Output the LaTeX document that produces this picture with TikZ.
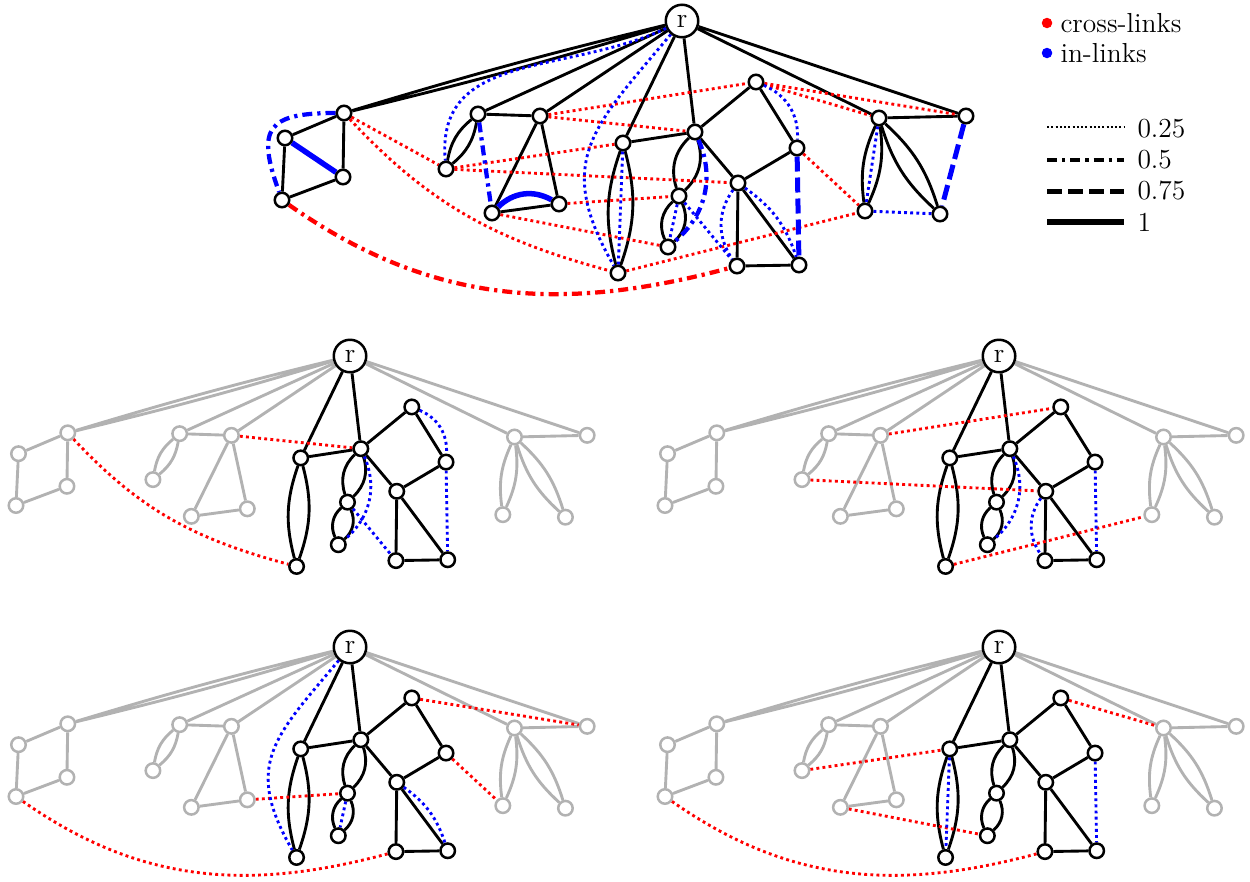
\documentclass[tikz,border=0pt]{standalone}
\pgfdeclarelayer{edges}
\pgfsetlayers{edges,main}
\definecolor{lgray}{RGB}{178,178,178}
\tikzset{
  vtx/.style={circle,draw=black,fill=white,line width=1pt,minimum size=5.8pt,inner sep=0pt},
  gvtx/.style={vtx,draw=lgray},
  rootn/.style={circle,draw=black,fill=white,line width=1pt,minimum size=13pt,inner sep=0pt,font=\fontsize{11}{13}\selectfont},
  bedge/.style={line width=1.15pt,draw=black},
  gedge/.style={line width=1.15pt,draw=lgray},
  wA/.style={line width=1.15pt,dash pattern=on 1.15pt off 1.3pt},
  wB/.style={line width=1.7pt,dash pattern=on 4pt off 2pt on 1.3pt off 2pt},
  wC/.style={line width=2pt,dash pattern=on 6pt off 2.4pt},
  wD/.style={line width=2.2pt},
  xl/.style={draw=red},
  il/.style={draw=blue},
  lbl/.style={font=\fontsize{11}{13}\selectfont,inner sep=0pt},
}
% #1 prefix, #2 side vertex style, #3 core vertex style
\newcommand\GNodes[3]{%
  \node[rootn] (#1r) at (0,0) {r};
  \node[#2] (#1Atr) at (-338,92) {};
  \node[#2] (#1Al) at (-397,117) {};
  \node[#2] (#1Abr) at (-339,156) {};
  \node[#2] (#1Abl) at (-400,179) {};
  \node[#2] (#1Bl) at (-204,93) {};
  \node[#2] (#1Br) at (-142,95) {};
  \node[#2] (#1Bll) at (-236,148) {};
  \node[#2] (#1Bbl) at (-190,192) {};
  \node[#2] (#1Bbr) at (-123,183) {};
  \node[#3] (#1Ct) at (-59,122) {};
  \node[#3] (#1Cb) at (-64,252) {};
  \node[#3] (#1H) at (13,111) {};
  \node[#3] (#1Et) at (74,61) {};
  \node[#3] (#1Er) at (115,127) {};
  \node[#3] (#1Em) at (56,162) {};
  \node[#3] (#1Fm) at (-3,175) {};
  \node[#3] (#1Fb) at (-14,226) {};
  \node[#3] (#1Ebl) at (55,245) {};
  \node[#3] (#1Ebr) at (117,244) {};
  \node[#2] (#1Dl) at (197,97) {};
  \node[#2] (#1Dr) at (284,95) {};
  \node[#2] (#1Dbl) at (183,190) {};
  \node[#2] (#1Dbr) at (258,193) {};
}
% #1 prefix, #2 side edge style, #3 core edge style
\newcommand\GEdges[3]{%
  \draw[#2] (#1r) to[bend left=1.5] (#1Atr) (#1r) to[bend right=1.5] (#1Atr);
  \draw[#2] (#1r) -- (#1Bl) (#1r) -- (#1Br) (#1r) -- (#1Dl) (#1r) -- (#1Dr);
  \draw[#2] (#1Atr) -- (#1Al) (#1Atr) -- (#1Abr) (#1Al) -- (#1Abl) (#1Abl) -- (#1Abr);
  \draw[#2] (#1Bl) -- (#1Br) (#1Br) -- (#1Bbl) (#1Br) -- (#1Bbr) (#1Bbl) -- (#1Bbr);
  \draw[#2] (#1Bl) to[bend left=20] (#1Bll) (#1Bl) to[bend right=20] (#1Bll);
  \draw[#2] (#1Dl) -- (#1Dr);
  \draw[#2] (#1Dl) to[bend left=16] (#1Dbl) (#1Dl) to[bend right=16] (#1Dbl);
  \draw[#2] (#1Dl) to[bend left=15] (#1Dbr) (#1Dl) to[bend right=15] (#1Dbr);
  \draw[#3] (#1r) -- (#1Ct) (#1r) -- (#1H) (#1Ct) -- (#1H);
  \draw[#3] (#1Ct) to[bend left=17] (#1Cb) (#1Ct) to[bend right=17] (#1Cb);
  \draw[#3] (#1H) to[bend left=32] (#1Fm) (#1H) to[bend right=32] (#1Fm);
  \draw[#3] (#1Fm) to[bend left=36] (#1Fb) (#1Fm) to[bend right=36] (#1Fb);
  \draw[#3] (#1H) -- (#1Et) (#1H) -- (#1Em) (#1Et) -- (#1Er) (#1Er) -- (#1Em)
            (#1Em) -- (#1Ebl) (#1Em) -- (#1Ebr) (#1Ebl) -- (#1Ebr);
}
\begin{document}
\begin{tikzpicture}[x=0.4pt,y=-0.4pt]
\useasboundingbox (0,0) rectangle (1250,881);
% ---------------- top graph ----------------
\begin{scope}[shift={(682,21)}]
  \GNodes{T}{vtx}{vtx}
  \begin{pgfonlayer}{edges}
  \GEdges{T}{bedge}{bedge}
  % cross-links
  \draw[xl,wA] (TAtr) -- (TBll);
  \draw[xl,wA] (TAtr) to[out=-47,in=165] (TCb);
  \draw[xl,wB] (TAbl) to[out=-35,in=195] (TEbl);
  \draw[xl,wA] (TBr) -- (TEt);
  \draw[xl,wA] (TBr) -- (TH);
  \draw[xl,wA] (TBll) -- (TCt);
  \draw[xl,wA] (TBll) -- (TEm);
  \draw[xl,wA] (TBbr) -- (TFm);
  \draw[xl,wA] (TBbl) -- (TFb);
  \draw[xl,wA] (TCb) -- (TDbl);
  \draw[xl,wA] (TEt) -- (TDl);
  \draw[xl,wA] (TEt) -- (TDr);
  \draw[xl,wA] (TEr) -- (TDbl);
  % in-links
  \draw[il,wD] (TAl) -- (TAbr);
  \draw[il,wB] (TAtr) to[out=180,in=110,looseness=1.8] (TAbl);
  \draw[il,wA] (Tr) to[out=205,in=95,looseness=1.1] (TBll);
  \draw[il,wB] (TBl) -- (TBbl);
  \draw[il,wD] (TBbl) to[bend left=37] (TBbr);
  \draw[il,wA] (Tr) to[out=230,in=120,looseness=1.3] (TCb);
  \draw[il,wA] (TCt) -- (TCb);
  \draw[il,wB] (TH) to[bend left=37] (TFb);
  \draw[il,wA] (TFm) -- (TFb);
  \draw[il,wA] (TFm) -- (TEbl);
  \draw[il,wA] (TEm) to[bend right=35] (TEbl);
  \draw[il,wA] (TEm) to[bend left=18] (TEbr);
  \draw[il,wA] (TEt) to[bend left=35] (TEr);
  \draw[il,wC] (TEr) -- (TEbr);
  \draw[il,wA] (TDl) -- (TDbl);
  \draw[il,wA] (TDbl) -- (TDbr);
  \draw[il,wC] (TDr) -- (TDbr);
  \end{pgfonlayer}
\end{scope}
% ---------------- middle left ----------------
\begin{scope}[shift={(350,356)},scale=0.835]
  \GNodes{P}{gvtx}{vtx}
  \begin{pgfonlayer}{edges}
  \GEdges{P}{gedge}{bedge}
  \draw[xl,wA] (PAtr) to[out=-47,in=165] (PCb);
  \draw[xl,wA] (PBr) -- (PH);
  \draw[il,wA] (PH) to[bend left=37] (PFb);
  \draw[il,wA] (PFm) -- (PEbl);
  \draw[il,wA] (PEt) to[bend left=35] (PEr);
  \draw[il,wA] (PEr) -- (PEbr);
  \end{pgfonlayer}
\end{scope}
% ---------------- middle right ----------------
\begin{scope}[shift={(999,356)},scale=0.835]
  \GNodes{Q}{gvtx}{vtx}
  \begin{pgfonlayer}{edges}
  \GEdges{Q}{gedge}{bedge}
  \draw[xl,wA] (QBr) -- (QEt);
  \draw[xl,wA] (QBll) -- (QEm);
  \draw[xl,wA] (QCb) -- (QDbl);
  \draw[il,wA] (QH) to[bend left=37] (QFb);
  \draw[il,wA] (QEm) to[bend right=35] (QEbl);
  \draw[il,wA] (QEr) -- (QEbr);
  \end{pgfonlayer}
\end{scope}
% ---------------- bottom left ----------------
\begin{scope}[shift={(350,647)},scale=0.835]
  \GNodes{S}{gvtx}{vtx}
  \begin{pgfonlayer}{edges}
  \GEdges{S}{gedge}{bedge}
  \draw[xl,wA] (SAbl) to[out=-35,in=195] (SEbl);
  \draw[xl,wA] (SBbr) -- (SFm);
  \draw[xl,wA] (SEt) -- (SDr);
  \draw[xl,wA] (SEr) -- (SDbl);
  \draw[il,wA] (Sr) to[out=230,in=120,looseness=1.3] (SCb);
  \draw[il,wA] (SFm) -- (SFb);
  \draw[il,wA] (SEm) to[bend left=18] (SEbr);
  \end{pgfonlayer}
\end{scope}
% ---------------- bottom right ----------------
\begin{scope}[shift={(999,647)},scale=0.835]
  \GNodes{U}{gvtx}{vtx}
  \begin{pgfonlayer}{edges}
  \GEdges{U}{gedge}{bedge}
  \draw[xl,wA] (UAbl) to[out=-35,in=195] (UEbl);
  \draw[xl,wA] (UBll) -- (UCt);
  \draw[xl,wA] (UBbl) -- (UFb);
  \draw[xl,wA] (UEt) -- (UDl);
  \draw[il,wA] (UCt) -- (UCb);
  \draw[il,wA] (UEr) -- (UEbr);
  \end{pgfonlayer}
\end{scope}
% ---------------- legend ----------------
\node[circle,fill=red,minimum size=4.2pt,inner sep=0pt] (lgred) at (1047,23) {};
\node[circle,fill=blue,minimum size=4.2pt,inner sep=0pt] (lgblue) at (1047,53) {};
\node[lbl,anchor=base west] (lgcross) at (1060,32) {cross-links};
\node[lbl,anchor=base west] (lgin) at (1060,62) {in-links};
\coordinate (la1) at (1047,127); \coordinate (lb1) at (1124,127);
\coordinate (la2) at (1047,160); \coordinate (lb2) at (1124,160);
\coordinate (la3) at (1047,191); \coordinate (lb3) at (1124,191);
\coordinate (la4) at (1047,222); \coordinate (lb4) at (1124,222);
\draw[black,line width=0.8pt,dash pattern=on 0.8pt off 0.9pt] (la1) -- (lb1);
\draw[black,wB] (la2) -- (lb2);
\draw[black,wC] (la3) -- (lb3);
\draw[black,wD] (la4) -- (lb4);
\node[lbl,anchor=base west] (lt1) at (1137,137) {0.25};
\node[lbl,anchor=base west] (lt2) at (1137,168) {0.5};
\node[lbl,anchor=base west] (lt3) at (1137,199) {0.75};
\node[lbl,anchor=base west] (lt4) at (1137,231) {1};
\end{tikzpicture}
\end{document}
